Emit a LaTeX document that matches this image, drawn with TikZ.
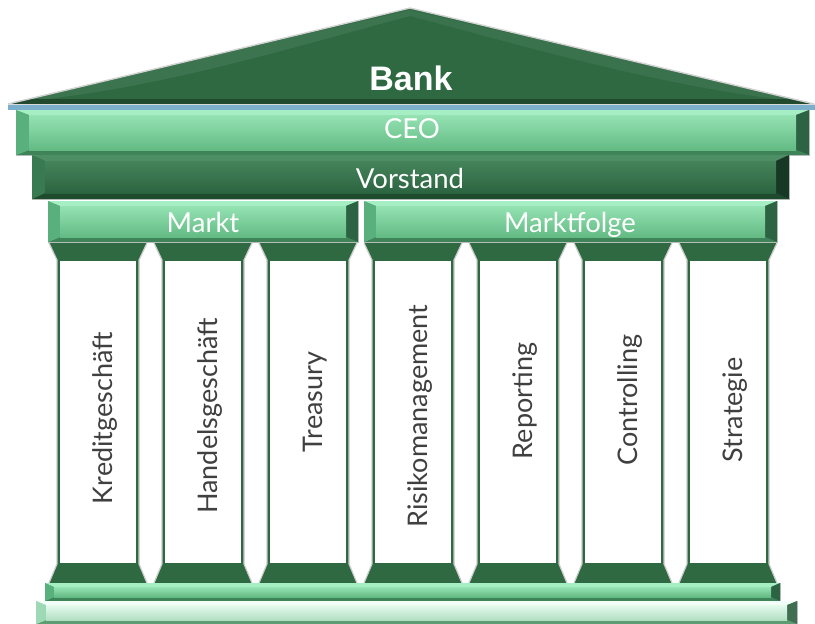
\documentclass[tikz,border=0pt]{standalone}
\usepackage{fontspec}
\setmainfont{Lato}
\newfontfamily\banksans{Liberation Sans}
\definecolor{dkgreen}{HTML}{2E6942}
\definecolor{txtgray}{HTML}{404040}
\definecolor{roofblue}{HTML}{7BAFCB}
% light green palette
\definecolor{lgHi}{HTML}{A6EEC3}
\definecolor{lgMain}{HTML}{6CC88E}
\definecolor{lgLo}{HTML}{3E8458}
\definecolor{lgSide}{HTML}{2C6342}
\definecolor{lgLside}{HTML}{5AB07D}
% dark green palette
\definecolor{dgHi}{HTML}{4E8E64}
\definecolor{dgMain}{HTML}{2F6B45}
\definecolor{dgLo}{HTML}{1E4A2E}
\definecolor{dgSide}{HTML}{173824}
\definecolor{dgLside}{HTML}{3A7A52}
% pale mint palette
\definecolor{pmHi}{HTML}{F2FFF8}
\definecolor{pmMain}{HTML}{C6F0D6}
\definecolor{pmLo}{HTML}{5E9C74}
\definecolor{pmSide}{HTML}{3F6E50}
\definecolor{pmLside}{HTML}{9ED9B6}
% #1 x1, #2 y1, #3 x2, #4 y2, #5 side bevel, #6 vertical bevel, #7 palette
\newcommand{\bevbar}[7]{%
  \fill[#7Main, draw=gray!45, line width=0.8pt] (#1,#2) rectangle (#3,#4);
  \fill[#7Hi] (#1,#2) -- (#3,#2) -- (#3-#5,#2+#6) -- (#1+#5,#2+#6) -- cycle;
  \fill[#7Lo] (#1,#4) -- (#3,#4) -- (#3-#5,#4-#6) -- (#1+#5,#4-#6) -- cycle;
  \fill[#7Lside] (#1,#2) -- (#1+#5,#2+#6) -- (#1+#5,#4-#6) -- (#1,#4) -- cycle;
  \fill[#7Side] (#3,#2) -- (#3-#5,#2+#6) -- (#3-#5,#4-#6) -- (#3,#4) -- cycle;
  \shade[top color=#7Hi!70!#7Main, middle color=#7Main, bottom color=#7Main!80!#7Lo]
    (#1+#5,#2+#6) rectangle (#3-#5,#4-#6);
}
\tikzset{
  pillartext/.style={rotate=90, anchor=base, text=txtgray, inner sep=0pt,
    font=\fontsize{27}{32}\selectfont},
  bartext/.style={anchor=base, text=white, inner sep=0pt,
    font=\fontsize{27.5}{32}\selectfont},
  colshape/.style={fill=dkgreen},
  coledge/.style={draw=gray!40, line width=1.2pt},
}
\begin{document}
\begin{tikzpicture}[x=1pt,y=-1pt]
\useasboundingbox (0,0) rectangle (815,624);
% roof
\fill[dkgreen] (8,104) -- (410,8) -- (814,104) -- cycle;
\fill[dkgreen!85!white, opacity=0.5] (14,102) .. controls (150,92) and (300,45) .. (410,16) -- (410,10) -- cycle;
\fill[dkgreen!85!white, opacity=0.4] (808,102) .. controls (680,92) and (520,45) .. (410,16) -- (410,10) -- cycle;
\fill[dkgreen!70!black] (30,99) -- (790,99) -- (814,104) -- (8,104) -- cycle;
\draw[gray!35, line width=1.4pt, line join=round] (8,104) -- (410,8) -- (814,104);
\draw[gray!30, line width=1pt] (8,104) -- (815,104);
\fill[roofblue] (8,104.8) rectangle (815,109.5);
\node[font=\banksans\bfseries\fontsize{34}{40}\selectfont, text=white, anchor=base, inner sep=0pt] (bank) at (411,90) {Bank};
% columns
\foreach \i/\t/\yc in {0/Kreditgeschäft/418, 1/Handelsgeschäft/416, 2/Treasury/402, 3/Risikomanagement/416, 4/Reporting/401, 5/Controlling/400, 6/Strategie/410}{
  \pgfmathsetmacro\L{57+105*\i}
  \pgfmathsetmacro\R{\L+82}
  \fill[colshape] (\L-8,243) -- (\R+8,243) -- (\R,260) -- (\R,564) -- (\R+8,583) -- (\L-8,583) -- (\L,564) -- (\L,260) -- cycle;
  \draw[coledge] (\R+8,243) -- (\R,260) -- (\R,564) -- (\R+8,583);
  \draw[coledge] (\L-8,243) -- (\L,260) -- (\L,564) -- (\L-8,583);
  \fill[white] (\L+2.5,260.5) rectangle (\R-3.5,563);
  \node[pillartext] (p\i) at (\L+55,\yc) {\t};
}
% bars
\bevbar{16}{110}{809}{155}{13}{5}{lg}
\node[bartext] (ceo) at (412,138) {CEO};
\bevbar{32}{155}{789}{199}{13}{6}{dg}
\node[bartext] (vorstand) at (410,188) {Vorstand};
\bevbar{48}{201}{358}{242}{12}{5}{lg}
\node[bartext] (markt) at (203,232) {Markt};
\bevbar{364}{201}{777}{242}{12}{5}{lg}
\node[bartext] (marktfolge) at (570,232) {Marktfolge};
% base
\bevbar{45}{583}{780}{601}{9}{4}{lg}
\bevbar{36}{601}{797}{624}{10}{4}{pm}
\end{tikzpicture}
\end{document}
